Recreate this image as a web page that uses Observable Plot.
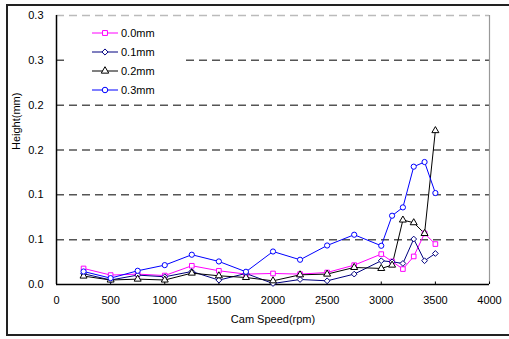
<!DOCTYPE html>
<html>
<head>
<meta charset="utf-8">
<script src="https://cdn.jsdelivr.net/npm/d3@7"></script>
<script src="https://cdn.jsdelivr.net/npm/@observablehq/plot@0.6"></script>
<style>
  html, body { margin: 0; padding: 0; background: #fff; }
  #wrap { position: relative; width: 509px; height: 339px; overflow: hidden; font-family: "Liberation Sans", Arial, sans-serif; }
  #frame { position: absolute; left: 6px; top: 4px; width: 520px; height: 332px; border: 2px solid #222; box-sizing: border-box; pointer-events: none; }
  #legend { position: absolute; left: 64px; top: 20px; width: 118px; height: 80px; background: #fff; }
  svg { display: block; }
</style>
</head>
<body>
<div id="wrap"><div id="frame"></div></div>
<script>
// Data
const speeds = [250, 500, 750, 1000, 1250, 1500, 1750, 2000, 2250, 2500, 2750, 3000, 3100, 3200, 3300, 3400, 3500];
const h00 = [0.0179, 0.0105, 0.0116, 0.0100, 0.0209, 0.0153, 0.0116, 0.0123, 0.0116, 0.0134, 0.0216, 0.0339, 0.0257, 0.0172, 0.0313, 0.0569, 0.0451];
const h01 = [0.0120, 0.0050, 0.0105, 0.0086, 0.0145, 0.0049, 0.0123, 0.0011, 0.0056, 0.0041, 0.0116, 0.0265, 0.0253, 0.0235, 0.0507, 0.0265, 0.0346];
const h02 = [0.0094, 0.0050, 0.0060, 0.0050, 0.0127, 0.0097, 0.0078, 0.0041, 0.0108, 0.0116, 0.0190, 0.0179, 0.0216, 0.0719, 0.0689, 0.0569, 0.1716];
const h03 = [0.0145, 0.0071, 0.0153, 0.0216, 0.0332, 0.0257, 0.0142, 0.0368, 0.0276, 0.0435, 0.0555, 0.0432, 0.0767, 0.0860, 0.1314, 0.1366, 0.1020];
const seriesNames = ["0.0mm", "0.1mm", "0.2mm", "0.3mm"];
const seriesValues = [h00, h01, h02, h03];
const seriesColors = ["#ff00ff", "#000080", "#000000", "#0000ff"];
const seriesSymbols = ["square", "diamond2", "triangle", "circle"];
const xTicks = [0, 500, 1000, 1500, 2000, 2500, 3000, 3500, 4000];
const yTicks = [0, 0.05, 0.1, 0.15, 0.2, 0.25, 0.3];
const yLabels = ["0.0", "0.1", "0.1", "0.2", "0.2", "0.3", "0.3"];
const xTitle = "Cam Speed(rpm)";
const yTitle = "Height(mm)";

const rows = [];
seriesNames.forEach((name, s) => {
  speeds.forEach((sp, i) => rows.push({series: name, idx: s, speed: sp, h: seriesValues[s][i]}));
});
const yLabelMap = new Map(yTicks.map((t, i) => [t, yLabels[i]]));

const chart = Plot.plot({
  width: 509,
  height: 339,
  marginLeft: 56,
  marginRight: 20,
  marginTop: 15,
  marginBottom: 55,
  style: {fontFamily: "'Liberation Sans', Arial, sans-serif", fontSize: "11px", background: "transparent", color: "#000"},
  x: {domain: [0, 4000]},
  y: {domain: [0, 0.3]},
  color: {domain: seriesNames, range: seriesColors},
  symbol: {domain: seriesNames, range: seriesSymbols},
  marks: [
    Plot.ruleY(yTicks.filter(t => t > 0 && t < 0.3), {y: d => d, stroke: "#555", strokeWidth: 1.5, strokeDasharray: "8,5"}),
    Plot.ruleY([0.3], {y: d => d, stroke: "#bbb", strokeWidth: 1.5, strokeDasharray: "8,5"}),
    Plot.ruleX([4000], {x: d => d, y1: 0, y2: 0.3, stroke: "#999", strokeWidth: 1.2}),
    Plot.ruleX(xTicks, {x: d => d, y1: 0, y2: 0.0028, stroke: "#000"}),
    Plot.ruleY([0], {y: d => d, stroke: "#000", strokeWidth: 1.5}),
    Plot.ruleX([0], {x: d => d, y1: 0, y2: 0.3, stroke: "#000", strokeWidth: 1.5}),
    Plot.axisX({ticks: xTicks, tickSize: 0, tickPadding: 12, label: null, tickFormat: d => String(d)}),
    Plot.axisY({ticks: yTicks, tickSize: 0, tickPadding: 13, label: null, tickFormat: d => yLabelMap.get(d)}),
    Plot.line(rows, {x: "speed", y: "h", z: "series", stroke: "series", strokeWidth: 1}),
    Plot.dot(rows, {x: "speed", y: "h", symbol: "series", stroke: "series", fill: "#fff", r: 2.6, strokeWidth: 1}),
    Plot.text([xTitle], {text: d => d, frameAnchor: "bottom", dy: 38, fontSize: 11}),
    Plot.text([yTitle], {text: d => d, frameAnchor: "left", dx: -40, rotate: -90, fontSize: 11})
  ]
});
const wrap = document.getElementById("wrap");
wrap.insertBefore(chart, wrap.firstChild);

// Legend overlay
const leg = document.createElement("div");
leg.id = "legend";
wrap.appendChild(leg);
const ls = d3.select(leg).append("svg").attr("width", 118).attr("height", 80);
const symMap = {square: d3.symbolSquare, diamond2: d3.symbolDiamond2, triangle: d3.symbolTriangle, circle: d3.symbolCircle};
seriesNames.forEach((name, i) => {
  const g = ls.append("g").attr("transform", `translate(0, ${13 + i * 19})`);
  g.append("line").attr("x1", 28).attr("x2", 54).attr("y1", 0).attr("y2", 0).attr("stroke", seriesColors[i]).attr("stroke-width", 1);
  g.append("path").attr("d", d3.symbol(symMap[seriesSymbols[i]], 24)()).attr("transform", "translate(41,0)")
    .attr("fill", "#fff").attr("stroke", seriesColors[i]).attr("stroke-width", 1);
  g.append("text").attr("x", 57).attr("y", 4).attr("font-size", "11px").attr("font-family", "'Liberation Sans', Arial, sans-serif").text(name);
});
</script>
</body>
</html>
